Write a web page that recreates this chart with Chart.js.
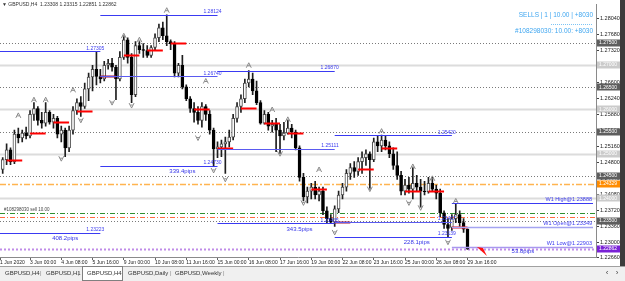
<!DOCTYPE html>
<html>
<head>
<meta charset="utf-8">
<script src="https://cdn.jsdelivr.net/npm/chart.js@4.4.1/dist/chart.umd.min.js"></script>
<style>
  html, body { margin: 0; padding: 0; background: #fff; overflow: hidden; }
  canvas { display: block; }
</style>
</head>
<body>
<canvas id="chart" width="625" height="281"></canvas>
<script>
// GBPUSD H4, bar 0 = 1 Jun 20:00 ... bar 119 = 29 Jun 16:00
const opens = [
  1.24649,1.24870,1.25091,1.24826,1.25445,1.25356,1.25467,1.25401,1.25887,1.26019,
  1.25754,1.25688,1.25931,1.25710,1.25798,1.25445,1.25533,1.25135,1.25533,1.25975,
  1.26152,1.26064,1.26461,1.26727,1.26903,1.26740,1.26682,1.26992,1.27036,1.26948,
  1.26682,1.27169,1.27566,1.27169,1.26329,1.27434,1.27345,1.27323,1.27213,1.27390,
  1.27611,1.27832,1.27655,1.27522,1.27478,1.26815,1.26992,1.26506,1.26240,1.26019,
  1.25931,1.25754,1.26064,1.25887,1.25533,1.25111,1.25157,1.25224,1.25268,1.25377,
  1.25798,1.26064,1.26240,1.26594,1.26682,1.26417,1.26152,1.25688,1.25887,1.25622,
  1.25666,1.25533,1.25401,1.25467,1.25577,1.25489,1.25135,1.24472,1.24030,1.24163,
  1.24251,1.24075,1.24163,1.23721,1.23544,1.23467,1.23765,1.24075,1.24251,1.24561,
  1.24693,1.24605,1.24826,1.24914,1.25003,1.24870,1.25268,1.25180,1.25312,1.25180,
  1.25003,1.24738,1.24517,1.24163,1.24296,1.24207,1.24340,1.24251,1.24163,1.24150,
  1.24340,1.24207,1.24119,1.23677,1.23412,1.23349,1.23544,1.23633,1.23456,1.23308
];
const highs = [
  1.24914,1.25224,1.25135,1.25533,1.25577,1.25533,1.25600,1.25975,1.26152,1.26064,
  1.25931,1.26152,1.25975,1.25887,1.25843,1.25622,1.25577,1.25622,1.26064,1.26240,
  1.26285,1.26594,1.26815,1.26992,1.27305,1.26903,1.27080,1.27124,1.27147,1.26992,
  1.27301,1.27655,1.27611,1.27257,1.27522,1.27522,1.27478,1.27434,1.27434,1.27699,
  1.27920,1.27964,1.28124,1.27566,1.27522,1.27036,1.27213,1.26550,1.26285,1.26152,
  1.26064,1.26152,1.26108,1.25975,1.25577,1.25268,1.25312,1.25377,1.25533,1.25887,
  1.26152,1.26329,1.26682,1.26870,1.26815,1.26638,1.26196,1.25975,1.25931,1.25754,
  1.25798,1.25666,1.25710,1.25754,1.25666,1.25533,1.25180,1.24561,1.24251,1.24340,
  1.24384,1.24251,1.24251,1.23809,1.23633,1.23832,1.24163,1.24340,1.24649,1.24782,
  1.24826,1.24914,1.25047,1.25091,1.25047,1.25356,1.25401,1.25420,1.25401,1.25268,
  1.25135,1.25047,1.24605,1.24428,1.24472,1.24693,1.24517,1.24428,1.24384,1.24472,
  1.24472,1.24296,1.24207,1.23721,1.23544,1.23633,1.23888,1.23721,1.23544,1.23315
];
const lows = [
  1.24561,1.24759,1.24759,1.24782,1.25246,1.25268,1.25334,1.25356,1.25754,1.25644,
  1.25577,1.25622,1.25666,1.25577,1.25356,1.25268,1.24937,1.25047,1.25445,1.25887,
  1.25843,1.26019,1.26196,1.26417,1.26550,1.26594,1.26638,1.26903,1.26859,1.26218,
  1.26638,1.27124,1.27036,1.26152,1.26285,1.27257,1.27169,1.27169,1.27169,1.27345,
  1.27522,1.27566,1.27434,1.27345,1.26727,1.26727,1.26461,1.26196,1.25931,1.25710,
  1.25666,1.25600,1.25754,1.25445,1.24730,1.24914,1.24937,1.24561,1.25157,1.25312,
  1.25710,1.25931,1.26152,1.26506,1.26329,1.26108,1.25666,1.25666,1.25533,1.25489,
  1.25047,1.25003,1.25312,1.25445,1.25356,1.25091,1.24384,1.23942,1.23898,1.23986,
  1.23986,1.23942,1.23633,1.23456,1.23435,1.23367,1.23677,1.23986,1.24163,1.24428,
  1.24472,1.24517,1.24561,1.24738,1.24207,1.24826,1.25047,1.25047,1.25091,1.24914,
  1.24649,1.24428,1.24075,1.24075,1.24119,1.23986,1.24163,1.23809,1.24075,1.24119,
  1.24163,1.23986,1.23588,1.23323,1.23139,1.23279,1.23456,1.23367,1.23235,1.22851
];
const closes = [
  1.24870,1.25091,1.24826,1.25445,1.25356,1.25467,1.25401,1.25887,1.26019,1.25754,
  1.25688,1.25931,1.25710,1.25798,1.25445,1.25533,1.25135,1.25533,1.25975,1.26152,
  1.26064,1.26461,1.26727,1.26903,1.26740,1.26682,1.26992,1.27036,1.26948,1.26682,
  1.27169,1.27566,1.27169,1.26329,1.27434,1.27345,1.27323,1.27213,1.27390,1.27611,
  1.27832,1.27655,1.27522,1.27478,1.26815,1.26992,1.26506,1.26240,1.26019,1.25931,
  1.25754,1.26064,1.25887,1.25533,1.25111,1.25157,1.25224,1.25268,1.25377,1.25798,
  1.26064,1.26240,1.26594,1.26682,1.26417,1.26152,1.25688,1.25887,1.25622,1.25666,
  1.25533,1.25401,1.25467,1.25577,1.25489,1.25135,1.24472,1.24030,1.24163,1.24251,
  1.24075,1.24163,1.23721,1.23544,1.23467,1.23765,1.24075,1.24251,1.24561,1.24693,
  1.24605,1.24826,1.24914,1.25003,1.24870,1.25268,1.25180,1.25312,1.25180,1.25003,
  1.24738,1.24517,1.24163,1.24296,1.24207,1.24340,1.24251,1.24163,1.24150,1.24340,
  1.24207,1.24119,1.23677,1.23412,1.23323,1.23544,1.23633,1.23456,1.23308,1.22862
];

// axis ticks
const timeTickBars = [-0.69, 7, 15, 23, 31, 39, 47, 55, 63, 71, 79, 87, 95, 103, 111, 119];
const timeTickLabels = ['1 Jun 2020', '3 Jun 00:00', '4 Jun 08:00', '5 Jun 16:00', '9 Jun 00:00',
  '10 Jun 08:00', '11 Jun 16:00', '15 Jun 00:00', '16 Jun 08:00', '17 Jun 16:00', '19 Jun 00:00',
  '22 Jun 08:00', '23 Jun 16:00', '25 Jun 00:00', '26 Jun 08:00', '29 Jun 16:00'];
const priceTicks = [1.28040, 1.27680, 1.27320, 1.26960, 1.26600, 1.26240, 1.25880, 1.25520,
  1.25160, 1.24800, 1.24440, 1.24080, 1.23720, 1.23360, 1.23000, 1.22660];

// round number levels
const dottedLevels = [1.27500, 1.26500, 1.25500, 1.24500, 1.23500];
const solidLevels = [1.27000, 1.26000, 1.25000, 1.24000];

// weekly high / low / open boxes
const weekStart = [-5, 25, 55, 85];
const weekEnd = [25, 55, 85, 115];
const weekHigh = [1.27305, 1.28124, 1.26870, 1.25420];
const weekLow = [1.23223, 1.24730, 1.23435, 1.23139];
const weekOpen = [null, 1.26740, 1.25111, 1.23467];
const weekPips = ['408.2pips', '339.4pips', '343.5pips', '228.1pips'];

// current week
const w1Start = 115;
const w1Names = ['W1 High', 'W1 Open', 'W1 Low'];
const w1Prices = [1.23888, 1.23349, 1.22903];
const w1Pips = '53.8pips';

// daily open markers
const dayStartBars = [1, 7, 13, 19, 25, 31, 37, 43, 49, 55, 61, 67, 73, 79, 85, 91, 97, 103, 109, 115];
const dayOpenPrices = [1.24848, 1.25467, 1.25710, 1.25953, 1.26740, 1.27213, 1.27323, 1.27478, 1.25997, 1.25111,
  1.26019, 1.25688, 1.25467, 1.24207, 1.23467, 1.24649, 1.25113, 1.24163, 1.24163, 1.23349];

// fractals
const fractalUpBars = [4, 8, 11, 18, 31, 35, 42, 52, 63, 69, 73, 81, 97, 105, 110, 116];
const fractalUpPrices = [1.25865, 1.26218, 1.26218, 1.26439, 1.27655, 1.27566, 1.28229, 1.26638,
  1.26992, 1.25997, 1.25776, 1.24649, 1.25511, 1.24717, 1.24450, 1.23942];
const fractalDownBars = [15, 20, 28, 33, 50, 54, 57, 71, 77, 85, 94, 104, 107, 114];
const fractalDownPrices = [1.24892, 1.25754, 1.26152, 1.26086, 1.25356, 1.24627, 1.24428, 1.25003,
  1.23898, 1.23235, 1.24207, 1.23898, 1.23787, 1.23014];

// trade lines
const orderGreen = 1.23677;
const orderRed = 1.23588;
const orangeLevel = 1.24329;
const bidPrice = 1.22862;

const FONT = '"Liberation Sans", "DejaVu Sans", sans-serif';

function hline(ctx, x1, x2, y) {
  ctx.beginPath();
  ctx.moveTo(x1, Math.round(y) + 0.5);
  ctx.lineTo(x2, Math.round(y) + 0.5);
  ctx.stroke();
}

function text(ctx, s, x, y, color, size, align, base) {
  ctx.font = size + 'px ' + FONT;
  ctx.fillStyle = color;
  ctx.textAlign = align || 'left';
  ctx.textBaseline = base || 'middle';
  ctx.fillText(s, x, y);
}

const overlay = {
  id: 'mt4Overlay',
  beforeDatasetsDraw(chart) {
    const { ctx, chartArea: a, scales: { x, y } } = chart;
    ctx.save();
    ctx.beginPath();
    ctx.rect(a.left, a.top, a.right - a.left, a.bottom - a.top);
    ctx.clip();

    ctx.strokeStyle = '#dcdcdc';
    ctx.lineWidth = 2;
    solidLevels.forEach(p => hline(ctx, a.left, a.right, y.getPixelForValue(p)));

    ctx.strokeStyle = '#7a7a7a';
    ctx.lineWidth = 1;
    ctx.setLineDash([1, 2]);
    dottedLevels.forEach(p => hline(ctx, a.left, a.right, y.getPixelForValue(p)));

    ctx.strokeStyle = '#ffb450';
    ctx.lineWidth = 1.5;
    ctx.setLineDash([6, 2, 2, 2]);
    hline(ctx, a.left, a.right, y.getPixelForValue(orangeLevel));

    ctx.lineWidth = 1;
    ctx.strokeStyle = '#2f8f2f';
    ctx.setLineDash([5, 2, 1, 2]);
    hline(ctx, a.left, a.right, y.getPixelForValue(orderGreen));
    ctx.strokeStyle = '#ff6a3d';
    hline(ctx, a.left, a.right, y.getPixelForValue(orderRed));

    ctx.strokeStyle = '#c08ce8';
    ctx.lineWidth = 2;
    ctx.setLineDash([2, 2]);
    hline(ctx, a.left, a.right, y.getPixelForValue(bidPrice));
    ctx.setLineDash([]);

    text(ctx, '#108298030 sell 10.00', a.left + 4, y.getPixelForValue(orderGreen) - 3, '#444', 4.5);
    ctx.restore();
  },
  afterDatasetsDraw(chart) {
    const { ctx, chartArea: a, scales: { x, y } } = chart;
    ctx.save();
    ctx.beginPath();
    ctx.rect(a.left, a.top, a.right - a.left, a.bottom - a.top);
    ctx.clip();

    // daily open markers
    ctx.lineWidth = 2;
    dayStartBars.forEach((b, i) => {
      ctx.strokeStyle = (b === 25 || b === 85) ? '#a0103a' : '#ff0000';
      hline(ctx, x.getPixelForValue(b), x.getPixelForValue(b + 4), y.getPixelForValue(dayOpenPrices[i]) - 0.5);
    });

    // weekly boxes
    ctx.lineWidth = 1;
    weekStart.forEach((s, i) => {
      const x1 = x.getPixelForValue(s), x2 = x.getPixelForValue(weekEnd[i]);
      ctx.strokeStyle = '#3a3af2';
      [weekHigh[i], weekLow[i]].forEach(p => {
        const yy = y.getPixelForValue(p);
        hline(ctx, x1, x2, yy);
        text(ctx, p.toFixed(5), x2 + 4, yy - 0.5, '#3a3af0', 5, 'right', 'bottom');
      });
      if (weekOpen[i] !== null) {
        const yy = y.getPixelForValue(weekOpen[i]);
        ctx.strokeStyle = '#5a5af0';
        hline(ctx, x1, x2, yy);
        text(ctx, weekOpen[i].toFixed(5), x2 + 4, yy - 0.5, '#3a3af0', 5, 'right', 'bottom');
      }
      text(ctx, weekPips[i], x.getPixelForValue(s + 21), y.getPixelForValue(weekLow[i]) + 5.5, '#3434e8', 6, 'center');
    });

    // current week
    const wx1 = x.getPixelForValue(w1Start), wx2 = a.right - 3;
    const w1Colors = ['#3a3af2', '#a4a4f2', '#a898ee'];
    w1Prices.forEach((p, i) => {
      const yy = y.getPixelForValue(p);
      ctx.strokeStyle = w1Colors[i];
      ctx.lineWidth = i === 0 ? 1 : 1.5;
      hline(ctx, wx1, wx2, yy);
      text(ctx, w1Names[i] + '@' + p.toFixed(5), wx2 - 1, yy - 1, '#3a3af0', 5.5, 'right', 'bottom');
    });
    text(ctx, w1Pips, x.getPixelForValue(133.2), y.getPixelForValue(w1Prices[2]) + 4.5, '#3434e8', 6, 'center');

    // sell arrow
    const ax = x.getPixelForValue(122.7), ay = y.getPixelForValue(bidPrice);
    ctx.fillStyle = '#ff1010';
    ctx.beginPath();
    ctx.moveTo(ax - 5, ay - 2);
    ctx.lineTo(ax + 1, ay - 1);
    ctx.lineTo(ax + 5, ay + 7);
    ctx.closePath();
    ctx.fill();

    // fractals
    ctx.strokeStyle = '#8a8a8a';
    ctx.lineWidth = 1;
    fractalUpBars.forEach((b, i) => {
      const fx = x.getPixelForValue(b), fy = y.getPixelForValue(fractalUpPrices[i]);
      ctx.beginPath();
      ctx.moveTo(fx - 2.5, fy + 2.5); ctx.lineTo(fx, fy - 2.5); ctx.lineTo(fx + 2.5, fy + 2.5);
      ctx.moveTo(fx - 1.2, fy + 0.5); ctx.lineTo(fx + 1.2, fy + 0.5);
      ctx.stroke();
    });
    fractalDownBars.forEach((b, i) => {
      const fx = x.getPixelForValue(b), fy = y.getPixelForValue(fractalDownPrices[i]);
      ctx.beginPath();
      ctx.moveTo(fx - 2.5, fy - 2.5); ctx.lineTo(fx, fy + 2.5); ctx.lineTo(fx + 2.5, fy - 2.5);
      ctx.moveTo(fx - 1.2, fy - 0.5); ctx.lineTo(fx + 1.2, fy - 0.5);
      ctx.stroke();
    });
    ctx.restore();
  },
  afterDraw(chart) {
    const { ctx, chartArea: a, scales: { y } } = chart;
    ctx.save();
    // title & trade panel
    text(ctx, '\u25BC GBPUSD,H4  1.23308 1.23315 1.22851 1.22862', 2, 4.5, '#333', 5);
    text(ctx, 'SELLS | 1 | 10.00 | +8030', 593, 15, '#3fa6f0', 6.5, 'right');
    ctx.strokeStyle = '#7cc4f5';
    ctx.setLineDash([1, 1]);
    hline(ctx, 551, 593, 23.5);
    ctx.setLineDash([]);
    text(ctx, '#108298030: 10.00: +8030', 593, 31, '#3fa6f0', 6.5, 'right');

    // price boxes on the axis
    const box = (p, bg, fg) => {
      const yy = y.getPixelForValue(p);
      ctx.fillStyle = bg;
      ctx.fillRect(a.right + 1, Math.round(yy) - 3.5, 23, 7);
      text(ctx, p.toFixed(5), a.right + 3, yy, fg, 5);
    };
    dottedLevels.forEach(p => box(p, '#5e5e5e', '#fff'));
    solidLevels.forEach(p => box(p, '#cbcbcb', '#fff'));
    box(orangeLevel, '#ff8c00', '#fff');
    box(bidPrice, '#7a22d6', '#fff');

    // right window edge
    ctx.fillStyle = '#3c3c3c';
    ctx.fillRect(620, 0, 5, 266);

    // tab bar
    ctx.fillStyle = '#f0f0f0';
    ctx.fillRect(0, 266, 625, 15);
    ctx.strokeStyle = '#a0a0a0';
    hline(ctx, 0, 625, 266);
    ctx.fillStyle = '#fff';
    ctx.fillRect(82, 266, 41, 15);
    ctx.strokeStyle = '#808080';
    ctx.strokeRect(82.5, 266.5, 40, 14);
    const tabs = [['GBPUSD,H4', 5], ['GBPUSD,H1', 46], ['GBPUSD,H4', 87], ['GBPUSD,Daily', 128], ['GBPUSD,Weekly', 175]];
    tabs.forEach(t => text(ctx, t[0], t[1], 273.5, '#333', 6));
    [40, 78, 170, 223].forEach(sx => text(ctx, '|', sx, 273.5, '#888', 6));
    text(ctx, '\u2039', 607, 272.5, '#444', 8, 'center');
    text(ctx, '\u203A', 617, 272.5, '#444', 8, 'center');
    ctx.restore();
  }
};

const wickData = highs.map((h, i) => ({ x: i, y: [lows[i], h] }));
const bodyData = opens.map((o, i) => ({ x: i, y: [o, closes[i]] }));

new Chart(document.getElementById('chart'), {
  type: 'bar',
  data: {
    datasets: [
      {
        label: 'wick',
        data: wickData,
        barThickness: 1,
        backgroundColor: '#1e1e1e',
        grouped: false,
        order: 2
      },
      {
        label: 'body',
        data: bodyData,
        barThickness: 3,
        grouped: false,
        backgroundColor: c => closes[c.dataIndex] >= opens[c.dataIndex] ? '#ffffff' : '#000000',
        borderColor: c => closes[c.dataIndex] >= opens[c.dataIndex] ? '#4a4a4a' : '#000000',
        borderWidth: 1,
        borderSkipped: false,
        order: 1
      }
    ]
  },
  options: {
    responsive: false,
    animation: false,
    devicePixelRatio: 1,
    events: [],
    layout: { padding: 0 },
    plugins: { legend: { display: false }, tooltip: { enabled: false } },
    scales: {
      x: {
        type: 'linear',
        position: 'bottom',
        offset: false,
        min: -0.69,
        max: 151.9,
        afterBuildTicks: s => { s.ticks = timeTickBars.map(v => ({ value: v })); },
        afterFit: s => { s.height = 24; },
        grid: { drawOnChartArea: false, drawTicks: true, tickLength: 3, color: '#666', offset: false },
        border: { color: '#8a8a8a' },
        ticks: {
          autoSkip: false, maxRotation: 0, minRotation: 0, align: 'start', padding: 0,
          color: '#222', font: { family: FONT, size: 5 },
          callback: (v, i) => timeTickLabels[i]
        }
      },
      y: {
        type: 'linear',
        position: 'right',
        min: 1.22682,
        max: 1.28362,
        afterBuildTicks: s => { s.ticks = priceTicks.map(v => ({ value: v })); },
        afterFit: s => { s.width = 29; },
        grid: { drawOnChartArea: false, drawTicks: true, tickLength: 3, color: '#444' },
        border: { color: '#8a8a8a' },
        ticks: {
          crossAlign: 'near', padding: 1, color: '#222',
          font: { family: FONT, size: 5.5 },
          callback: v => v.toFixed(5)
        }
      }
    }
  },
  plugins: [overlay]
});
</script>
</body>
</html>
